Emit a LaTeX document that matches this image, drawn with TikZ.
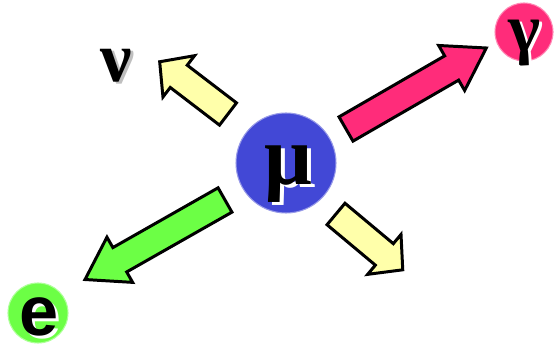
\documentclass[tikz,border=0pt]{standalone}
\usepackage{fontspec}
\setmainfont{Liberation Serif}
\newfontfamily\sansfam{Liberation Sans}
\usetikzlibrary{positioning}
\definecolor{muonblue}{HTML}{4248D6}
\definecolor{photonpink}{HTML}{FF2C7A}
\definecolor{electrongreen}{HTML}{6CFF45}
\definecolor{nuyellow}{HTML}{FFFFAA}
\tikzset{
  particle/.style = {circle, inner sep=0pt, draw=#1!55!white, line width=0.6pt, fill=#1},
  fluxarrow/.style = {draw=black, line width=1.7pt, line join=miter},
  glyph/.style = {anchor=base, inner sep=0pt, font=\bfseries\fontsize{48}{48}\selectfont},
}
% block arrow: fill, tail, angle, length, head length
\newcommand{\flux}[5]{%
  \begin{scope}[shift={#2}, rotate=#3]
    \draw[fluxarrow, fill=#1] (0,-14) -- (#4-#5,-14) -- (#4-#5,-26) -- (#4,0)
      -- (#4-#5,26) -- (#4-#5,14) -- (0,14) -- cycle;
  \end{scope}}

\begin{document}
\begin{tikzpicture}[x=0.2mm,y=-0.2mm]
  \useasboundingbox (0,0) rectangle (554,346);
  % particles
  \node[particle=muonblue, minimum size=20mm] (mu) at (286,163) {};
  \node[particle=photonpink, minimum size=11.6mm] (gam) at (524,32) {};
  \node[particle=electrongreen, minimum size=12mm] (el) at (38,313) {};
  % decay arrows
  \flux{nuyellow}{(228,114)}{142.6}{86}{24}
  \flux{nuyellow}{(336,214)}{-39.9}{87}{24}
  \flux{photonpink}{(346,129)}{30}{162}{40}
  \flux{electrongreen}{(225,200)}{209.6}{161}{40}
  % labels
  \coordinate (mubase) at (288,185);
  \coordinate (gambase) at (525,52);
  \coordinate (nubase) at (116,82);
  \coordinate (elbase) at (39,335);
  \node[glyph, text=white] at ([shift={(4,3)}]mubase) {μ};
  \node[glyph] (mulabel) at (mubase) {μ};
  \node[glyph, text=white, font=\bfseries\fontsize{39}{39}\selectfont] at ([shift={(3,2)}]gambase) {γ};
  \node[glyph, font=\bfseries\fontsize{39}{39}\selectfont] (gamlabel) at (gambase) {γ};
  \node[glyph, text=black!25, font=\bfseries\fontsize{40}{40}\selectfont] at ([shift={(3,2)}]nubase) {ν};
  \node[glyph, font=\bfseries\fontsize{40}{40}\selectfont] (nulabel) at (nubase) {ν};
  \node[glyph, text=white, font=\sansfam\bfseries\fontsize{40}{40}\selectfont] at ([shift={(3,3)}]elbase) {e};
  \node[glyph, font=\sansfam\bfseries\fontsize{40}{40}\selectfont] (ellabel) at (elbase) {e};
\end{tikzpicture}
\end{document}
